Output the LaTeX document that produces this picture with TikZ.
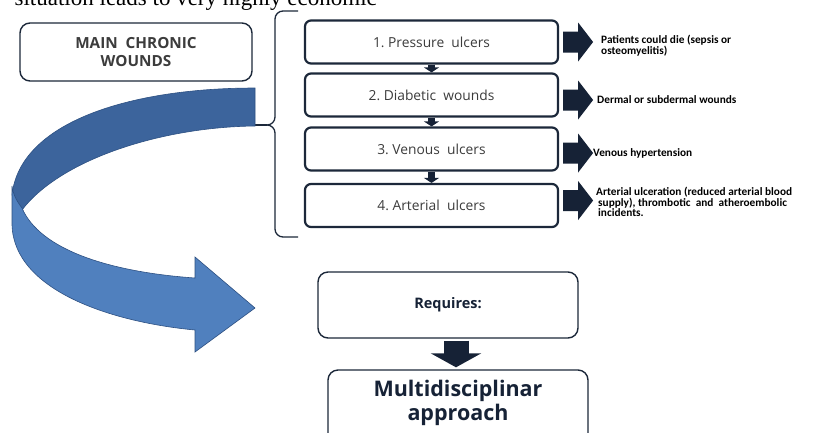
\documentclass[tikz,border=0pt]{standalone}
\usepackage{fontspec}
\setmainfont{Liberation Serif}
\newfontfamily\osans{Open Sans}
\newfontfamily\calib{Carlito}
\usetikzlibrary{arrows.meta,calc}
\definecolor{navy}{RGB}{22,34,54}
\definecolor{boxline}{RGB}{28,40,58}
\definecolor{bdark}{RGB}{60,100,156}
\definecolor{blight}{RGB}{80,128,190}
\definecolor{bedge}{RGB}{45,80,130}
\definecolor{txtgray}{RGB}{60,60,60}
\begin{document}
\begin{tikzpicture}[x=1pt,y=-1pt,
  wbox/.style={draw=boxline, line width=2.2pt, rounded corners=6pt, minimum width=253pt, minimum height=43pt, inner sep=0pt,
    font=\osans\fontsize{13.8}{15}\selectfont, text=txtgray},
  roundbox/.style={draw=boxline, line width=1.4pt, rounded corners=10pt, inner sep=0pt},
  lbl/.style={anchor=west, align=left, inner sep=0pt, font=\calib\bfseries\fontsize{11.3}{10.8}\selectfont, text=black},
  smallarr/.style={draw=navy, line width=7pt, -{Triangle[width=15pt,length=5pt]}},
  bigarr/.style={draw=navy, line width=25pt, -{Triangle[width=50pt,length=14pt]}}
]
\clip (0,0) rectangle (834,432);
\fill[white] (0,0) rectangle (834,432);

% clipped text of the page above
\node[anchor=base east, inner sep=0pt, font=\fontsize{23}{23}\selectfont] (toptext) at (377,5) {situation leads to very highly economic};

% left box
\node[roundbox, minimum width=232pt, minimum height=58pt, align=center, text=txtgray,
      font=\osans\bfseries\fontsize{15.3}{18}\selectfont] (main) at (136,52) {MAIN\ \ CHRONIC\\WOUNDS};

% wound boxes
\node[wbox] (b1) at (431.5,42) {1.\ Pressure\ \ ulcers};
\node[wbox] (b2) at (431.5,95) {2.\ Diabetic\ \ wounds};
\node[wbox] (b3) at (431.5,149) {3.\ Venous\ \ ulcers};
\node[wbox] (b4) at (431.5,205.5) {4.\ Arterial\ \ ulcers};

\draw[smallarr] (b1.south) -- (b2.north);
\draw[smallarr] (b2.south) -- (b3.north);
\draw[smallarr] (b3.south) -- (b4.north);

% labels
\node[lbl] (l1) at (601,46) {Patients could die (sepsis or\\osteomyelitis)};
\node[lbl] (l2) at (597,100) {Dermal or subdermal wounds};
\node[lbl] (l3) at (593,153.5) {Venous hypertension};
\node[lbl] (l4) at (596,202) {Arterial ulceration (reduced\ arterial\ blood\\\hspace{2pt}supply), thrombotic\ \ and\ \ atheroembolic\\\hspace{2pt}incidents.};

% block arrows to the labels
\foreach \b/\dy in {b1/0, b2/5, b3/4, b4/-5}{
  \begin{scope}[shift={(\b.east)}]
    \fill[navy] (4,\dy-10.5) -- (19,\dy-10.5) -- (19,\dy-19.5) -- (34,\dy) -- (19,\dy+19.5) -- (19,\dy+10.5) -- (4,\dy+10.5) -- cycle;
  \end{scope}
}

% brace
\draw[boxline, line width=1.3pt, line join=round]
  (298,11) -- (283,11) to[out=180,in=90] (275,19) -- (275,117) to[out=-90,in=0] (267,125)
  to[out=0,in=90] (275,133) -- (275,229) to[out=-90,in=180] (283,237) -- (298,237);
\coordinate (cusp) at (267,125);
\coordinate (tail) at (254,125);
\draw[boxline, line width=1.3pt] (tail) -- (cusp);

% curved ribbon arrow
\fill[bdark, draw=bedge, line width=0.6pt]
  (255,88) .. controls (130,88) and (20,122) .. (12,195)
  -- (22,210) .. controls (60,160) and (160,127) .. (255,126) -- cycle;
\fill[blight, draw=bedge, line width=0.6pt]
  (12,186) -- (12,225) .. controls (14,290) and (110,322) .. (195,330)
  -- (195,352) -- (255,308) -- (195,257) -- (195,278)
  .. controls (110,272) and (40,250) .. (22,208)
  .. controls (16,200) and (13,194) .. (12,186) -- cycle;

% requires
\node[roundbox, minimum width=260pt, minimum height=66pt, text=navy,
      font=\osans\bfseries\fontsize{14.5}{17}\selectfont] (req) at (448,305) {Requires:};
\node[roundbox, minimum width=260pt, minimum height=90pt] (mbox) at (458,415) {};
\node[align=center, inner sep=0pt, text=navy, font=\osans\bfseries\fontsize{21.5}{24}\selectfont] (mtxt) at (458,403) {Multidisciplinar\\approach};
\draw[bigarr] ($(req.south -| mbox.north)+(-2,2)$) -- ($(mbox.north)+(-2,-2)$);
\end{tikzpicture}
\end{document}
